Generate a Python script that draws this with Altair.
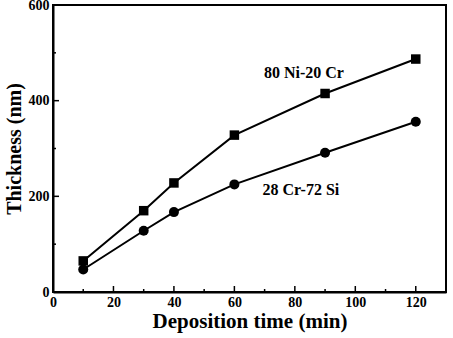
import altair as alt
import pandas as pd

time_min = [10, 30, 40, 60, 90, 120]
nicr_nm = [65, 170, 228, 328, 415, 487]
crsi_nm = [47, 128, 167, 225, 291, 356]
series_names = ["80 Ni-20 Cr", "28 Cr-72 Si"]
label_x = [83, 82]
label_y = [458, 213]
x_major = [0, 20, 40, 60, 80, 100, 120]
x_minor = [10, 30, 50, 70, 90, 110, 130]
y_major = [0, 200, 400, 600]
y_minor = [100, 300, 500]

FONT = "Liberation Serif"
W, H = 393, 287

df = pd.DataFrame({
    "t": time_min * 2,
    "v": nicr_nm + crsi_nm,
    "s": [series_names[0]] * 6 + [series_names[1]] * 6,
})

xs = alt.Scale(domain=[0, 130], nice=False, zero=False)
ys = alt.Scale(domain=[0, 600], nice=False)

xaxis = alt.Axis(values=x_major, tickSize=0, labelFont=FONT, labelFontSize=14,
                 labelFontWeight="bold", labelColor="black", labelPadding=3,
                 title="Deposition time (min)", titleFont=FONT, titleFontSize=21,
                 titleFontWeight="bold", titleColor="black", titlePadding=1,
                 grid=False, domainColor="black", domainWidth=2, labelFlush=False)
yaxis = alt.Axis(values=y_major, tickSize=0, labelFont=FONT, labelFontSize=14,
                 labelFontWeight="bold", labelColor="black", labelPadding=4,
                 title="Thickness (nm)", titleFont=FONT, titleFontSize=20,
                 titleFontWeight="bold", titleColor="black", titlePadding=4,
                 grid=False, domainColor="black", domainWidth=2, labelFlush=False)

base = alt.Chart(df)
lines = base.mark_line(color="black", strokeWidth=2).encode(
    x=alt.X("t:Q", scale=xs, axis=xaxis),
    y=alt.Y("v:Q", scale=ys, axis=yaxis),
    detail="s:N",
)
sq = alt.Chart(df[df.s == series_names[0]]).mark_point(
    shape="square", filled=True, color="black", size=90, opacity=1).encode(
    x=alt.X("t:Q", scale=xs), y=alt.Y("v:Q", scale=ys))
ci = alt.Chart(df[df.s == series_names[1]]).mark_point(
    shape="circle", filled=True, color="black", size=100, opacity=1).encode(
    x=alt.X("t:Q", scale=xs), y=alt.Y("v:Q", scale=ys))

lab = pd.DataFrame({"x": label_x, "y": label_y, "txt": series_names})
texts = alt.Chart(lab).mark_text(font=FONT, fontSize=16, fontWeight="bold",
                                 color="black").encode(
    x=alt.X("x:Q", scale=xs), y=alt.Y("y:Q", scale=ys), text="txt:N")

def xticks(vals, ln):
    d = pd.DataFrame({"x": vals})
    return alt.Chart(d).mark_rule(color="black", strokeWidth=1.5).encode(
        x=alt.X("x:Q", scale=xs), y=alt.value(H), y2=alt.value(H - ln))

def yticks(vals, ln):
    d = pd.DataFrame({"y": vals})
    return alt.Chart(d).mark_rule(color="black", strokeWidth=1.5).encode(
        y=alt.Y("y:Q", scale=ys), x=alt.value(0), x2=alt.value(ln))

chart = alt.layer(
    lines, sq, ci, texts,
    xticks(x_major, 6), xticks(x_minor, 3), yticks(y_major, 6), yticks(y_minor, 3),
).properties(
    width=W, height=H,
    padding={"left": 53, "top": 5, "right": 7, "bottom": 46},
    autosize=alt.AutoSizeParams(type="none"),
).configure_view(stroke="black", strokeWidth=2)

chart.save("out.html", embed_options={"renderer": "svg", "actions": False})
